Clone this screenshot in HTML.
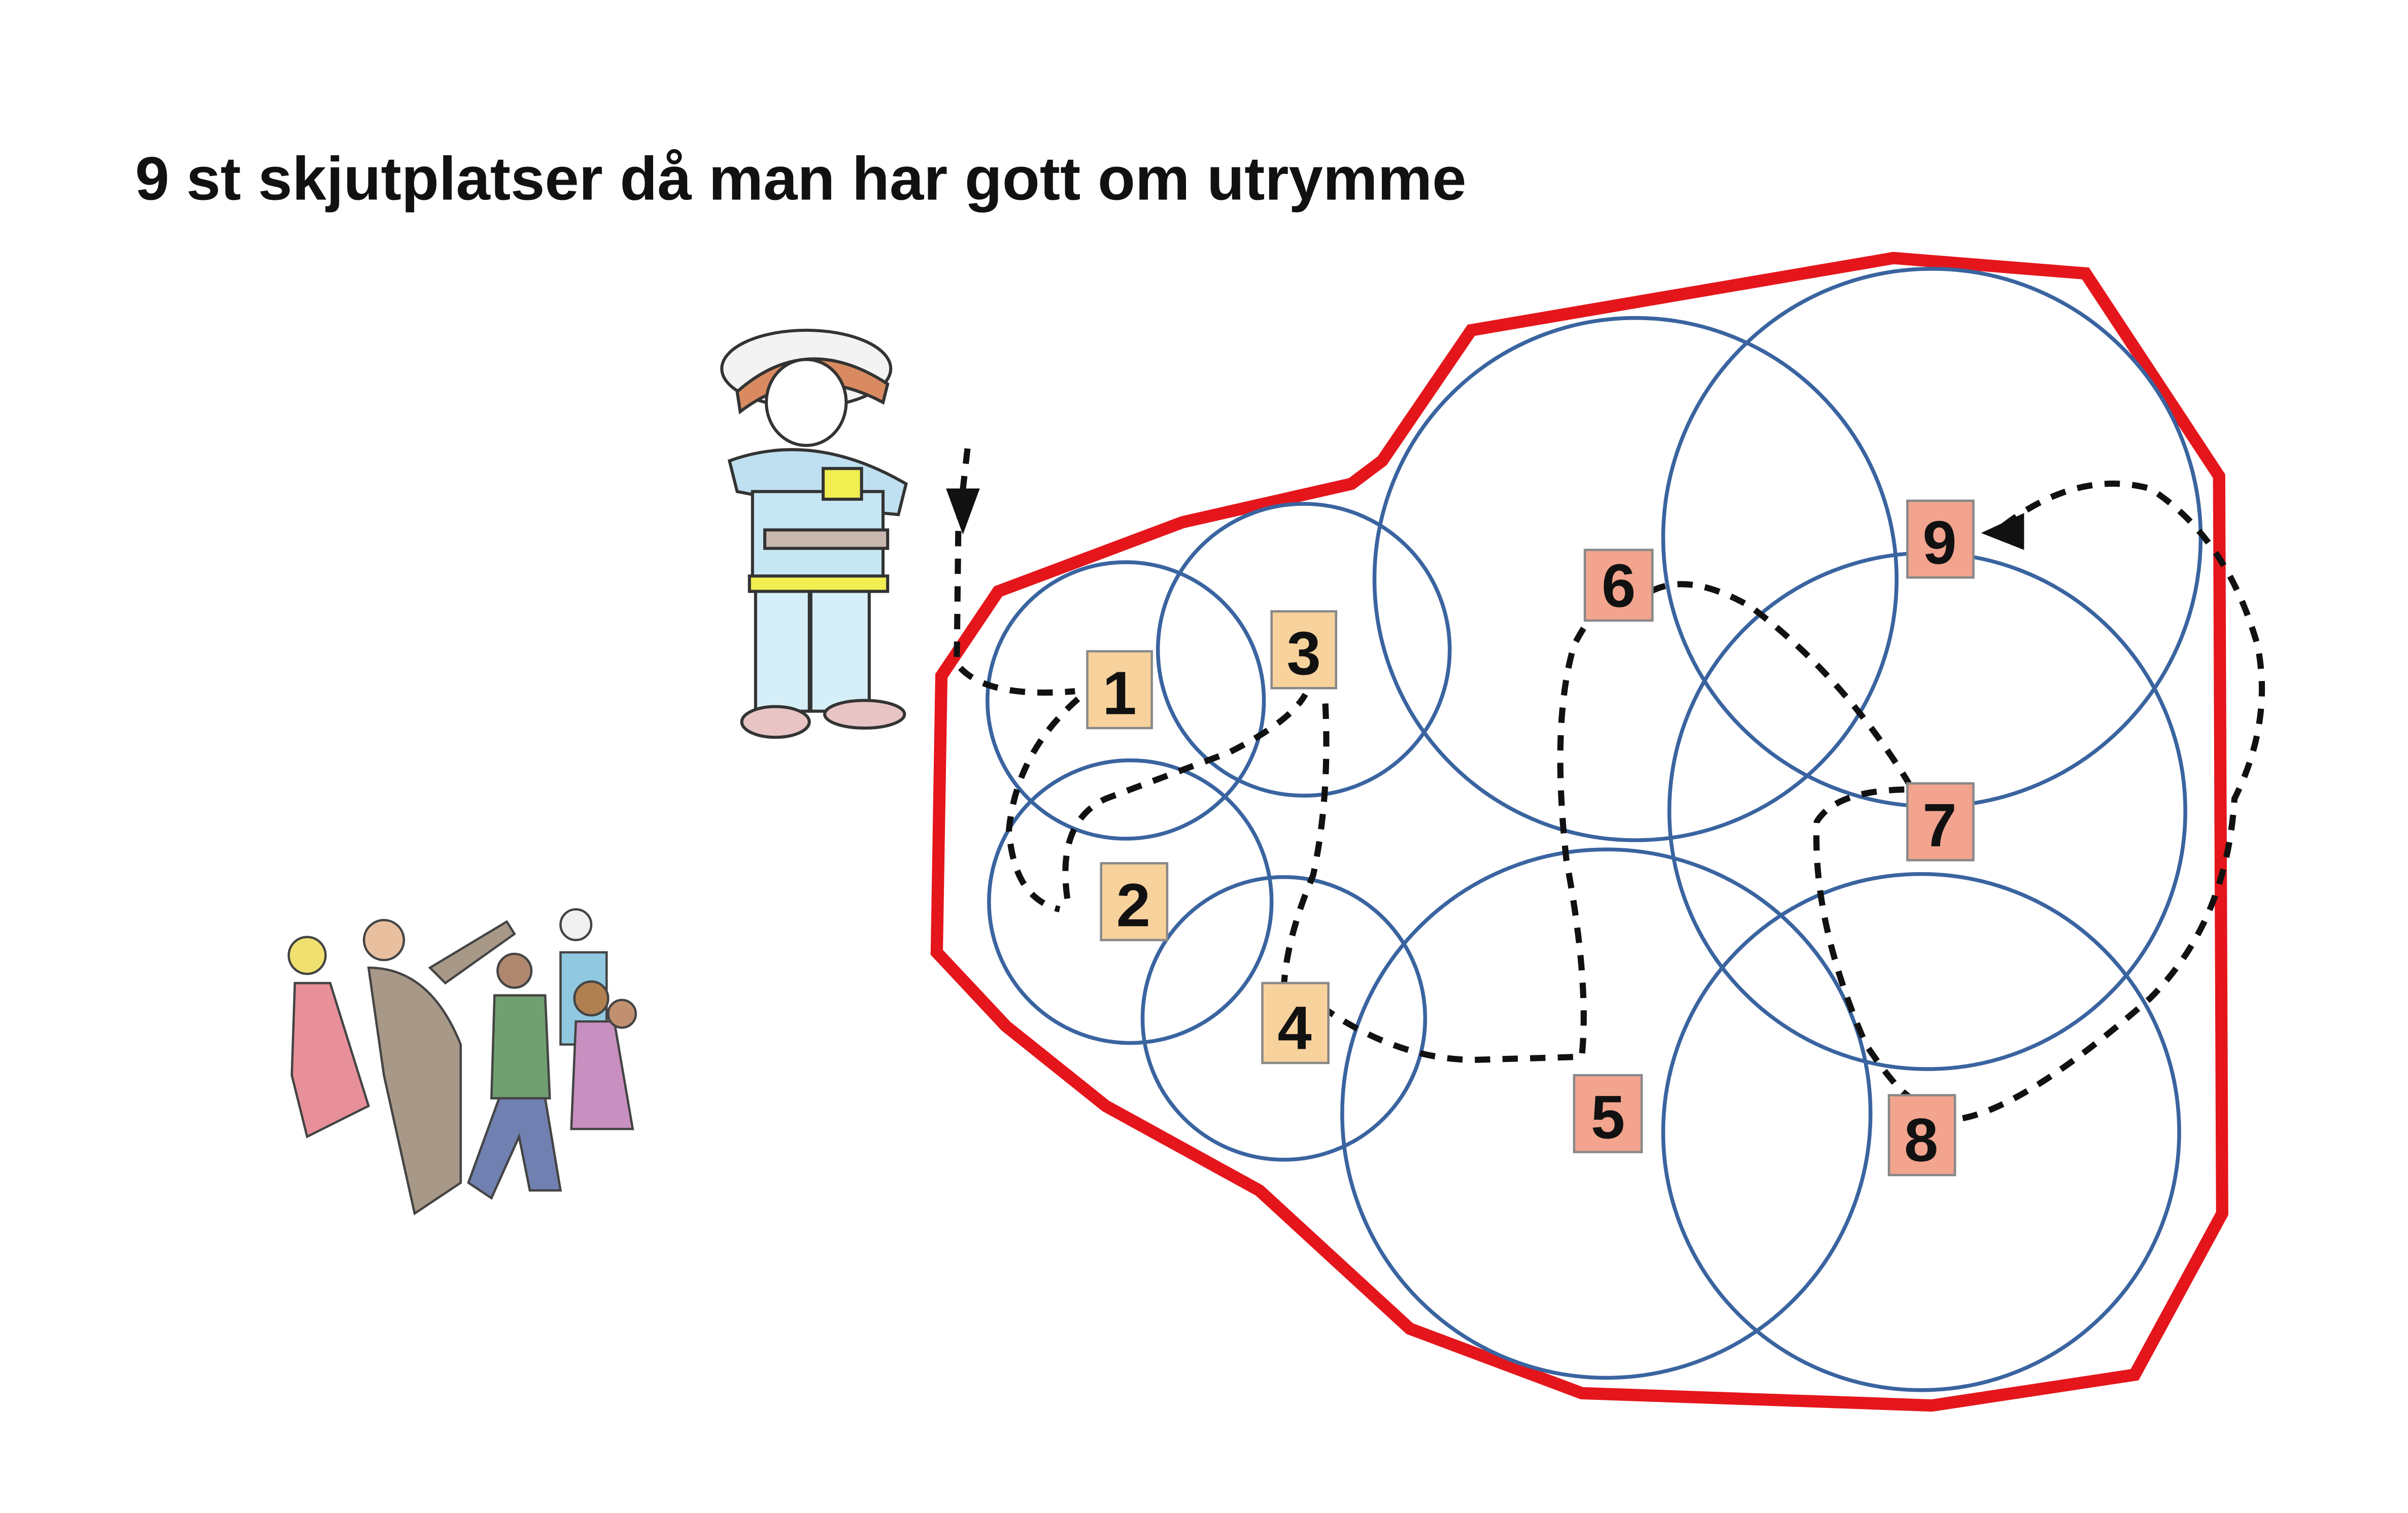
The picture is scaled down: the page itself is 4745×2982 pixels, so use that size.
<!DOCTYPE html>
<html><head><meta charset="utf-8"><style>
html,body{margin:0;padding:0;background:#fff;}
svg{display:block;}
</style></head><body>
<svg width="4745" height="2982" viewBox="0 0 1568 985" preserveAspectRatio="none" xmlns="http://www.w3.org/2000/svg">
<rect width="1568" height="985" fill="#fff"/>
<text x="88" y="130" font-family="Liberation Sans, sans-serif" font-weight="bold" font-size="40" fill="#111">9 st skjutplatser då man har gott om utrymme</text>

<polygon points="958,215 1233,168 1358,178 1445,310 1447,790 1390,895 1258,915 1030,907 918,865 820,775 720,720 655,668 610,620 613,440 650,385 770,340 880,315 900,300" fill="none" stroke="#e4161c" stroke-width="8" stroke-linejoin="miter"/>

<g fill="none" stroke="#3a64a0" stroke-width="2.5">
<circle cx="733" cy="456" r="90"/>
<circle cx="849" cy="423" r="95"/>
<circle cx="736" cy="587" r="92"/>
<circle cx="836" cy="663" r="92"/>
<circle cx="1046" cy="725" r="172"/>
<circle cx="1065" cy="377" r="170"/>
<circle cx="1258" cy="350" r="175"/>
<circle cx="1255" cy="528" r="168"/>
<circle cx="1251" cy="737" r="168"/>
</g>

<g fill="none" stroke="#111" stroke-width="4" stroke-dasharray="10,8">
<path d="M630,292 L624,345 L623,432 Q640,455 700,450"/>
<path d="M702,455 Q662,490 657,540 Q660,585 690,592"/>
<path d="M695,585 Q688,535 720,520 Q760,505 800,490 Q840,470 850,452"/>
<path d="M863,458 Q866,520 855,570 Q838,610 836,642"/>
<path d="M860,655 Q910,690 960,690 L1030,688 Q1035,640 1020,560 Q1010,470 1025,420 Q1035,400 1045,395"/>
<path d="M1075,385 Q1100,372 1140,395 Q1200,440 1243,510"/>
<path d="M1240,514 Q1195,515 1183,535 Q1180,600 1215,680 Q1235,710 1245,715"/>
<path d="M1278,728 Q1320,720 1400,650 Q1450,600 1455,520 Q1480,470 1470,420 Q1450,350 1400,318 Q1350,305 1300,346"/>
</g>
<polygon points="616,318 638,318 627,348" fill="#111"/>
<polygon points="1290,347 1318,334 1318,358" fill="#111"/>

<g stroke="#888" stroke-width="1.5">
<rect x="708" y="424" width="42" height="50" fill="#f8d29c"/>
<rect x="717" y="562" width="43" height="50" fill="#f8d29c"/>
<rect x="828" y="398" width="42" height="50" fill="#f8d29c"/>
<rect x="822" y="640" width="43" height="52" fill="#f8d29c"/>
<rect x="1025" y="700" width="44" height="50" fill="#f2a48e"/>
<rect x="1032" y="358" width="44" height="46" fill="#f2a48e"/>
<rect x="1242" y="326" width="43" height="50" fill="#f2a48e"/>
<rect x="1242" y="510" width="43" height="50" fill="#f2a48e"/>
<rect x="1230" y="713" width="43" height="52" fill="#f2a48e"/>
</g>
<g font-family="Liberation Sans, sans-serif" font-weight="bold" font-size="40" text-anchor="middle" fill="#111">
<text x="729" y="465">1</text>
<text x="738" y="603">2</text>
<text x="849" y="439">3</text>
<text x="843" y="683">4</text>
<text x="1047" y="741">5</text>
<text x="1054" y="395">6</text>
<text x="1263" y="551">7</text>
<text x="1251" y="756">8</text>
<text x="1263" y="367">9</text>
</g>

<!-- firefighter -->
<g stroke="#333" stroke-width="2">
<ellipse cx="525" cy="240" rx="55" ry="25" fill="#f3f3f3"/>
<path d="M480,255 Q525,215 578,250 L575,262 Q525,235 482,268 Z" fill="#d98a60"/>
<ellipse cx="525" cy="262" rx="26" ry="28" fill="#fff"/>
<path d="M475,300 Q530,280 590,315 L585,335 Q530,330 480,320 Z" fill="#bfe0f0"/>
<rect x="490" y="320" width="85" height="65" fill="#c7e6f4"/>
<rect x="498" y="345" width="80" height="12" fill="#c9b8b0"/>
<rect x="488" y="375" width="90" height="10" fill="#f0ee50"/>
<rect x="492" y="385" width="35" height="78" fill="#d6eef7"/>
<rect x="528" y="385" width="38" height="78" fill="#d6eef7"/>
<rect x="536" y="305" width="25" height="20" fill="#f0ee50"/>
<ellipse cx="505" cy="470" rx="22" ry="10" fill="#e8c4c4"/>
<ellipse cx="563" cy="465" rx="26" ry="9" fill="#e8c4c4"/>
</g>

<!-- crowd -->
<g stroke="#444" stroke-width="1.5">
<circle cx="200" cy="622" r="12" fill="#f0e070"/>
<path d="M192,640 L215,640 L240,720 L200,740 L190,700 Z" fill="#e8909a"/>
<circle cx="250" cy="612" r="13" fill="#e8c0a0"/>
<path d="M240,630 Q280,630 300,680 L300,770 L270,790 L250,700 Z" fill="#a89888"/>
<path d="M280,630 L330,600 L335,608 L290,640 Z" fill="#a89888"/>
<circle cx="335" cy="632" r="11" fill="#b08870"/>
<path d="M322,648 L355,648 L358,715 L320,715 Z" fill="#70a070"/>
<path d="M325,715 L355,715 L365,775 L345,775 L338,740 L320,780 L305,770 Z" fill="#7080b0"/>
<circle cx="375" cy="602" r="10" fill="#f0f0f0"/>
<path d="M365,620 L395,620 L395,680 L365,680 Z" fill="#90c8e0"/>
<circle cx="385" cy="650" r="11" fill="#b08050"/>
<path d="M375,665 L400,665 L412,735 L372,735 Z" fill="#c890c0"/>
<circle cx="405" cy="660" r="9" fill="#c09070"/>
</g>
</svg>
</body></html>
